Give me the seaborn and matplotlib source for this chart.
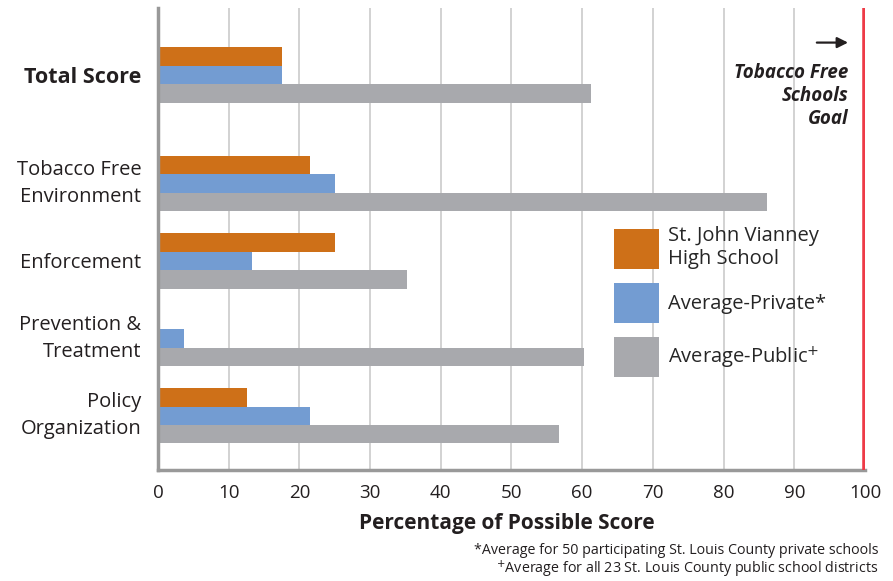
import numpy as np
import pandas as pd
import matplotlib
matplotlib.use("Agg")
import matplotlib.pyplot as plt
from matplotlib.patches import Patch
import seaborn as sns

# ----------------------------------------------------------------------
# Data (percent of possible score)
# ----------------------------------------------------------------------
categories = ["Total Score", "Tobacco Free\nEnvironment", "Enforcement",
              "Prevention &\nTreatment", "Policy\nOrganization"]
series = ["St. John Vianney\nHigh School", "Average-Private*", "Average-Public$^{+}$"]
vianney = [17.6, 21.5, 25.0, 0.0, 12.6]
private = [17.6, 25.0, 13.3, 3.7, 21.5]
public = [61.2, 86.1, 35.2, 60.2, 56.7]
x_ticks = [0, 10, 20, 30, 40, 50, 60, 70, 80, 90, 100]
goal = 100

colors = ["#CE7018", "#739CD2", "#A8A9AD"]

# layout: Total Score sits a bit further away from the rest
group_pos = [0.0, 1.4, 2.4, 3.4, 4.4]

rows = []
for vals, name in zip([vianney, private, public], series):
    for pos, v in zip(group_pos, vals):
        rows.append({"pos": pos, "series": name, "value": v})
df = pd.DataFrame(rows)

sns.set_theme(style="white")
plt.rcParams["font.family"] = ["Open Sans", "DejaVu Sans"]
text_col = "#231f20"

fig = plt.figure(figsize=(8.93, 5.81), dpi=100)
ax = fig.add_axes([0.1769, 0.191, 0.7917, 0.795])

sns.barplot(data=df, x="value", y="pos", hue="series", hue_order=series,
            palette=colors, orient="y", native_scale=True, width=0.714,
            saturation=1, linewidth=0, legend=False, ax=ax)

ax.set_xlim(0, 100)
ax.set_ylim(5.10, -0.865)
ax.set_xticks(x_ticks)
ax.set_xticklabels([str(t) for t in x_ticks], fontsize=13.5, color=text_col)
ax.set_yticks(group_pos)
ax.set_yticklabels(categories, fontsize=14.5, color=text_col, ha="right",
                   va="center", linespacing=1.45)
for lbl in ax.get_yticklabels():
    if "\n" not in lbl.get_text():
        lbl.set_va("center_baseline")
ax.get_yticklabels()[0].set_fontweight("bold")
ax.get_yticklabels()[0].set_fontsize(15.5)
ax.tick_params(axis="x", length=0, pad=10)
ax.tick_params(axis="y", length=0, pad=12)

ax.xaxis.grid(True, color="#d2d2d2", linewidth=1.4)
ax.set_axisbelow(True)
for side in ["top", "right"]:
    ax.spines[side].set_visible(False)
for side in ["left", "bottom"]:
    ax.spines[side].set_color("#999999")
    ax.spines[side].set_linewidth(2.5)

ax.axvline(goal, color="#EE3B47", linewidth=4, zorder=5)

ax.set_xlabel("Percentage of Possible Score", fontsize=15, fontweight="bold",
              color=text_col)
ax.xaxis.set_label_coords(0.493, -0.094)
ax.set_ylabel("")

# goal annotation
ax.annotate("", xy=(98.0, -0.42), xytext=(92.8, -0.42),
            arrowprops=dict(arrowstyle="-|>", color=text_col, lw=1.6,
                            mutation_scale=16))
ax.text(97.7, -0.16, "Tobacco Free\nSchools\nGoal", ha="right", va="top",
        fontsize=13.5, fontweight="bold", fontstyle="italic", color=text_col,
        linespacing=1.2)

handles = [Patch(facecolor=c, edgecolor="none") for c in colors]
ax.legend(handles, series, loc="upper left",
          bbox_to_anchor=(614 / 893, 1 - 226 / 581),
          bbox_transform=fig.transFigure, frameon=False,
          prop={"family": ["Open Sans", "DejaVu Sans"], "size": 14.5},
          handlelength=2.24, handleheight=2.68, labelspacing=0.7,
          handletextpad=0.45, borderpad=0, borderaxespad=0)

fig.text(878 / 893, 1 - 551 / 581,
         "*Average for 50 participating St. Louis County private schools",
         ha="right", va="center", fontsize=10.25, color=text_col)
fig.text(878 / 893, 1 - 569 / 581,
         "$^{+}$Average for all 23 St. Louis County public school districts",
         ha="right", va="center", fontsize=10.25, color=text_col)

fig.savefig("out.png", dpi=100)
